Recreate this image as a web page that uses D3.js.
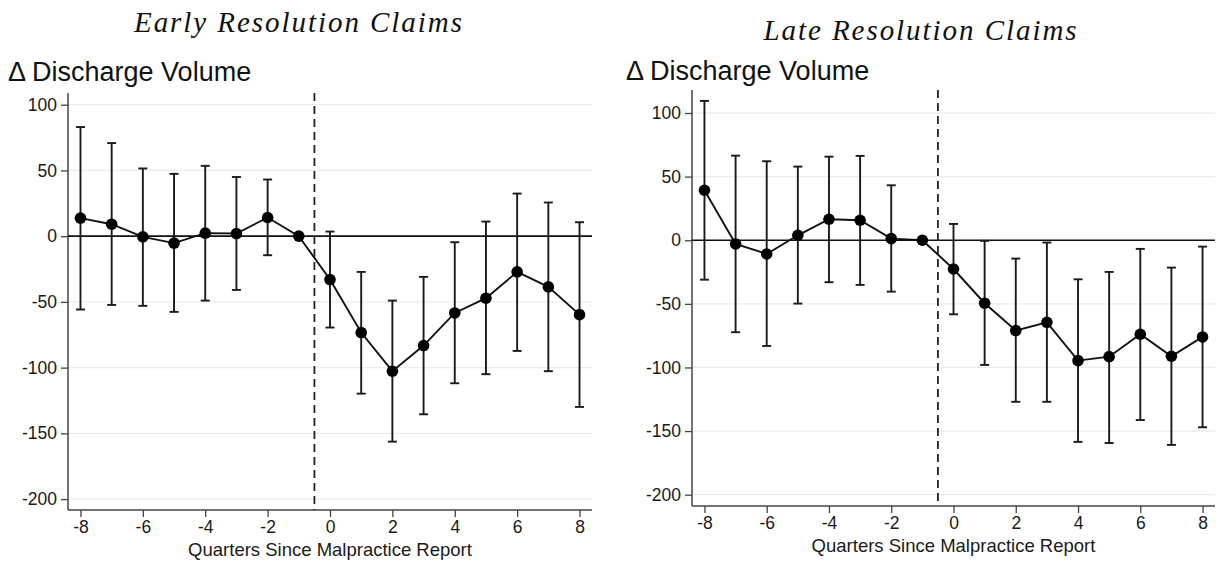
<!DOCTYPE html>
<html>
<head>
<meta charset="utf-8">
<script src="https://cdn.jsdelivr.net/npm/d3@7"></script>
<style>
  html, body { margin: 0; padding: 0; background: #fff; }
  svg { display: block; }
</style>
</head>
<body>
<svg id="chart" width="1224" height="565"></svg>
<script>
// ---- data ----
const quarters = [-8, -7, -6, -5, -4, -3, -2, -1, 0, 1, 2, 3, 4, 5, 6, 7, 8];
const xTicks = [-8, -6, -4, -2, 0, 2, 4, 6, 8];
const yTicks = [100, 50, 0, -50, -100, -150, -200];

const earlyEst   = [13.7, 9.1, -0.5, -5.3, 2.3, 2.0, 14.2, 0, -33, -73.3, -102.7, -83.2, -58.4, -47.2, -27.2, -38.6, -59.7];
const earlyUpper = [83, 70.8, 51.5, 47.4, 53.5, 45, 43.1, null, 3.5, -27.2, -49, -31, -4.6, 11.1, 32.4, 25.6, 10.6];
const earlyLower = [-55.8, -52.3, -53, -57.6, -49, -40.9, -14.5, null, -69.5, -119.8, -156.3, -135.5, -111.9, -105, -87.3, -102.7, -129.9];

const lateEst   = [39.3, -2.9, -10.8, 3.9, 16.5, 15.7, 1.3, 0, -22.6, -49.5, -71, -64.5, -94.6, -91.5, -73.9, -91.2, -76];
const lateUpper = [109.5, 66.5, 62.1, 57.9, 65.7, 66.3, 43.2, null, 12.8, -0.5, -14.4, -1.8, -30.7, -24.9, -6.8, -21.5, -5];
const lateLower = [-31, -72.3, -83.1, -49.8, -33, -35.1, -40.4, null, -58.2, -98, -127, -127, -158.5, -159.4, -141.3, -160.9, -147];

const titles = ["Early Resolution Claims", "Late Resolution Claims"];
const yLabel = "\u0394 Discharge Volume";
const xLabel = "Quarters Since Malpractice Report";

const svg = d3.select("#chart");
const sansFont = "'Liberation Sans', Arial, Helvetica, sans-serif";
const serifFont = "'Liberation Serif', 'DejaVu Serif', serif";
const titleSize = "29px";

// measure title widths so both titles share the same stretch factor
function measure(txt) {
  const t = svg.append("text").style("font-family", serifFont).style("font-style", "italic")
    .style("font-size", titleSize).text(txt);
  const w = t.node().getComputedTextLength();
  t.remove();
  return w;
}
const stretch = 328 / measure(titles[0]);

function drawPanel(cfg) {
  const { est, upper, lower } = cfg;
  const x = d3.scaleLinear().domain([-8.4, 8.4]).range([cfg.left, cfg.right]);
  const y = d3.scaleLinear().domain(cfg.yDomain).range([cfg.bottom, cfg.top]);
  const g = svg.append("g");

  // title
  g.append("text")
    .attr("x", cfg.titleX).attr("y", cfg.titleY)
    .attr("text-anchor", "middle")
    .attr("textLength", measure(cfg.title) * stretch)
    .attr("lengthAdjust", "spacing")
    .style("font-family", serifFont).style("font-style", "italic")
    .style("font-size", titleSize).attr("fill", "#111")
    .text(cfg.title);

  // y label
  g.append("text")
    .attr("x", cfg.yLabelX).attr("y", cfg.yLabelY)
    .style("font-family", sansFont).style("font-size", "27px").attr("fill", "#111")
    .text(yLabel);

  // gridlines
  g.append("g").selectAll("line").data(yTicks).join("line")
    .attr("x1", cfg.left).attr("x2", cfg.right)
    .attr("y1", d => y(d)).attr("y2", d => y(d))
    .attr("stroke", "#ececec").attr("stroke-width", 1.2);

  const fmt = d => String(d);

  // y axis
  const yAxis = g.append("g").attr("transform", `translate(${cfg.left},0)`)
    .call(d3.axisLeft(y).tickValues(yTicks).tickFormat(fmt).tickSize(7).tickPadding(4).tickSizeOuter(0));
  yAxis.select(".domain").attr("d", `M0,${cfg.top}V${cfg.bottom}`).attr("stroke", "#444").attr("stroke-width", 1.5);
  yAxis.selectAll(".tick line").attr("stroke", "#444").attr("stroke-width", 1.3);
  yAxis.selectAll(".tick text").style("font-family", sansFont).style("font-size", "17.5px").attr("fill", "#1a1a1a");

  // x axis
  const xAxis = g.append("g").attr("transform", `translate(0,${cfg.bottom})`)
    .call(d3.axisBottom(x).tickValues(xTicks).tickFormat(fmt).tickSize(7).tickPadding(4).tickSizeOuter(0));
  xAxis.select(".domain").attr("d", `M${cfg.left},0H${cfg.right}`).attr("stroke", "#444").attr("stroke-width", 1.5);
  xAxis.selectAll(".tick line").attr("stroke", "#444").attr("stroke-width", 1.3);
  xAxis.selectAll(".tick text").style("font-family", sansFont).style("font-size", "17.5px").attr("fill", "#1a1a1a");

  // x label
  g.append("text")
    .attr("x", (cfg.left + cfg.right) / 2).attr("y", cfg.xLabelY)
    .attr("text-anchor", "middle")
    .style("font-family", sansFont).style("font-size", "18.5px").attr("fill", "#1a1a1a")
    .text(xLabel);

  // zero line
  g.append("line")
    .attr("x1", cfg.left).attr("x2", cfg.right)
    .attr("y1", y(0)).attr("y2", y(0))
    .attr("stroke", "#111").attr("stroke-width", 1.6);

  // dashed vertical line at -0.5
  g.append("line")
    .attr("x1", x(-0.5)).attr("x2", x(-0.5))
    .attr("y1", cfg.top).attr("y2", cfg.bottom)
    .attr("stroke", "#222").attr("stroke-width", 1.8)
    .attr("stroke-dasharray", "8,5");

  const rows = quarters.map((q, i) => ({ q, e: est[i], u: upper[i], l: lower[i] }));
  const bars = rows.filter(d => d.u !== null);

  // error bars
  const eb = g.append("g").attr("stroke", "#1a1a1a").attr("stroke-width", 1.9);
  eb.selectAll("line.v").data(bars).join("line").attr("class", "v")
    .attr("x1", d => x(d.q)).attr("x2", d => x(d.q))
    .attr("y1", d => y(d.u)).attr("y2", d => y(d.l));
  eb.selectAll("line.cu").data(bars).join("line").attr("class", "cu")
    .attr("x1", d => x(d.q) - 4.5).attr("x2", d => x(d.q) + 4.5)
    .attr("y1", d => y(d.u)).attr("y2", d => y(d.u));
  eb.selectAll("line.cl").data(bars).join("line").attr("class", "cl")
    .attr("x1", d => x(d.q) - 4.5).attr("x2", d => x(d.q) + 4.5)
    .attr("y1", d => y(d.l)).attr("y2", d => y(d.l));

  // connecting line
  g.append("path").datum(rows)
    .attr("fill", "none").attr("stroke", "#111").attr("stroke-width", 1.9)
    .attr("d", d3.line().x(d => x(d.q)).y(d => y(d.e)));

  // points
  g.append("g").selectAll("circle").data(rows).join("circle")
    .attr("cx", d => x(d.q)).attr("cy", d => y(d.e)).attr("r", 5.8)
    .attr("fill", "#000");
}

drawPanel({
  title: titles[0], titleX: 298, titleY: 32,
  yLabelX: 8, yLabelY: 81,
  left: 68, right: 592, top: 93, bottom: 510,
  yDomain: [-208.3, 108.9], xLabelY: 556,
  est: earlyEst, upper: earlyUpper, lower: earlyLower
});

drawPanel({
  title: titles[1], titleX: 920, titleY: 40,
  yLabelX: 626, yLabelY: 80,
  left: 692, right: 1215, top: 90, bottom: 506,
  yDomain: [-208.9, 118.1], xLabelY: 552,
  est: lateEst, upper: lateUpper, lower: lateLower
});
</script>
</body>
</html>
